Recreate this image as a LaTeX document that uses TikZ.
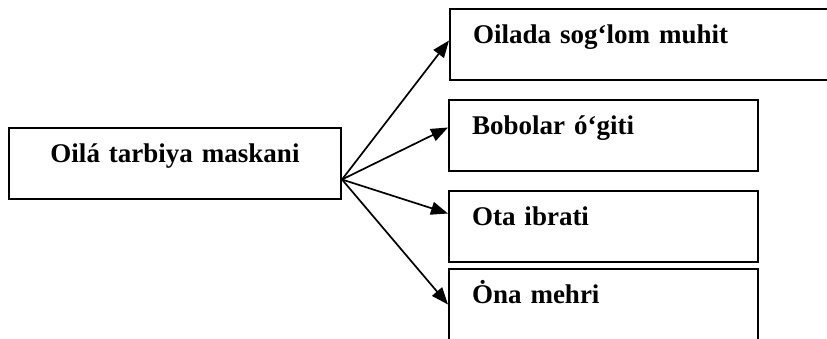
\documentclass[tikz,border=0pt]{standalone}
\usepackage{fontspec}
\setmainfont{Liberation Serif}
\usepackage{xcolor}
\usetikzlibrary{arrows.meta}

\tikzset{
	kvadrat/.style={draw, line width=2pt, anchor=north west, inner xsep=23pt, inner ysep=0pt,
		text height=34pt, text depth=37pt, align=left,
		font=\bfseries\fontsize{27}{30}\selectfont},
	strelka/.style={line width=1.7pt, -{Triangle[length=17pt,width=13pt]}}
}

\begin{document}
\begin{tikzpicture}[x=1pt,y=-1pt]
			\useasboundingbox (0,0) rectangle (827,338);
			\node[kvadrat, align=center, text width=286pt] (maskan) at (8,127) {Oilá tarbiya maskani};
			\node[kvadrat, text width=360pt] (muhit) at (449,8) {Oilada sog‘lom muhit};
			\node[kvadrat, text width=263pt] (ogit) at (448,99) {Bobolar ó‘giti};
			\node[kvadrat, text width=263pt] (ibrat) at (448,190) {Ota ibrati};
			\node[kvadrat, text width=263pt] (mehr) at (448,268) {Ȯna mehri};
			\coordinate (hub) at ([yshift=-16pt]maskan.east);
			\draw[strelka] (hub) -- ([yshift=4pt]muhit.west);
			\draw[strelka] (hub) -- ([yshift=8pt]ogit.west);
			\draw[strelka] (hub) -- ([yshift=13pt]ibrat.west);
			\draw[strelka] (hub) -- (mehr.west);
		\end{tikzpicture}
\end{document}
